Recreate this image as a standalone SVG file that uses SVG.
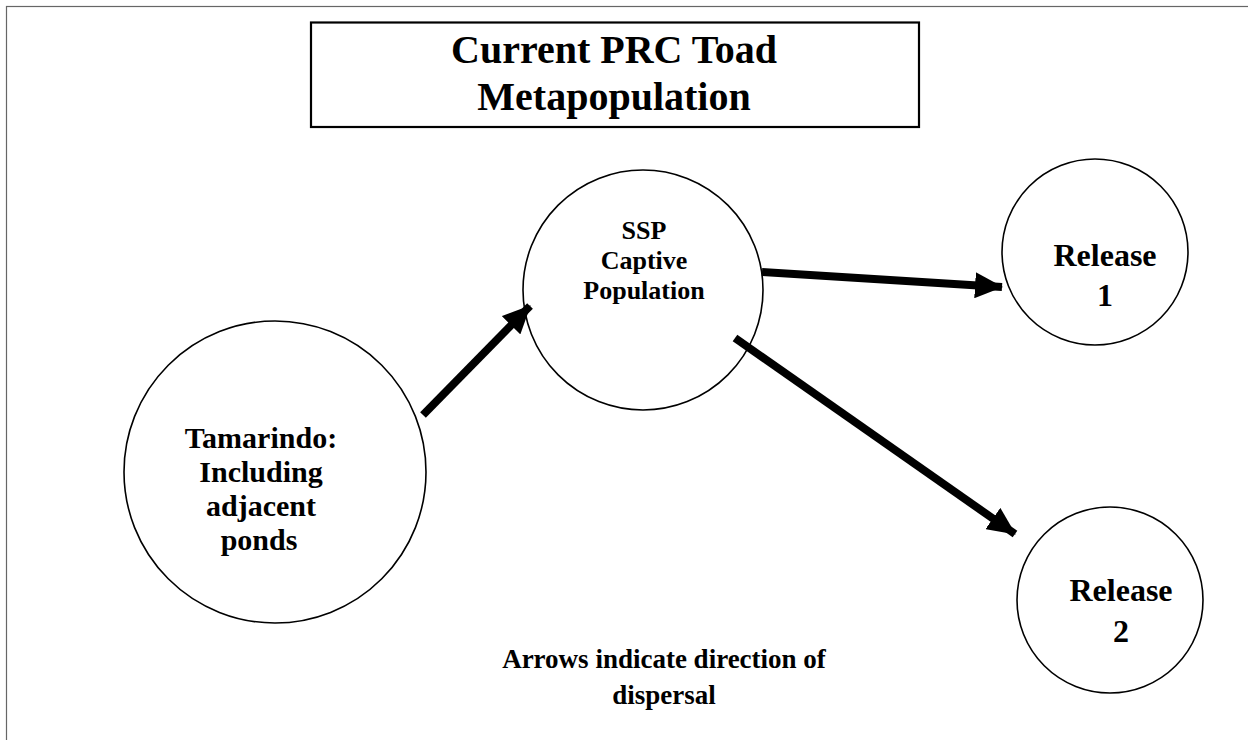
<svg xmlns="http://www.w3.org/2000/svg" width="1248" height="740" viewBox="0 0 1248 740">
<defs>
<style>
.t{font-family:"Liberation Serif","Times New Roman",serif;font-weight:bold;fill:#000;text-anchor:middle}
.node{fill:#fff;stroke:#000;stroke-width:1.6}
.conn{stroke:#000;stroke-width:8;fill:none}
</style>
<marker id="ah" markerUnits="userSpaceOnUse" markerWidth="28" markerHeight="26" viewBox="0 0 28 26" refX="27" refY="13" orient="auto">
<path d="M0,0 L28,13 L0,26 Z" fill="#000"/>
</marker>
</defs>
<rect width="1248" height="740" fill="#fff"/>
<rect x="6.5" y="6.5" width="1260" height="760" fill="none" stroke="#666" stroke-width="1.2"/>
<g id="title">
<rect x="311" y="22.5" width="608" height="104.5" fill="#fff" stroke="#000" stroke-width="2.2"/>
<text class="t" x="614" y="63" font-size="40">Current PRC Toad</text>
<text class="t" x="614" y="110" font-size="40">Metapopulation</text>
</g>
<g id="tamarindo">
<circle class="node" cx="275" cy="472" r="151"/>
<text class="t" x="261" y="448" font-size="30">Tamarindo:</text>
<text class="t" x="261" y="482" font-size="30">Including</text>
<text class="t" x="261" y="516" font-size="30">adjacent</text>
<text class="t" x="259" y="550" font-size="30">ponds</text>
</g>
<g id="ssp">
<circle class="node" cx="643" cy="290" r="120"/>
<text class="t" x="644" y="239" font-size="26">SSP</text>
<text class="t" x="644" y="269" font-size="26">Captive</text>
<text class="t" x="644" y="299" font-size="26">Population</text>
</g>
<g id="release1">
<circle class="node" cx="1095" cy="252" r="93"/>
<text class="t" x="1105" y="266" font-size="32">Release</text>
<text class="t" x="1105" y="306" font-size="32">1</text>
</g>
<g id="release2">
<circle class="node" cx="1110" cy="600" r="93"/>
<text class="t" x="1121" y="601" font-size="32">Release</text>
<text class="t" x="1121" y="642" font-size="32">2</text>
</g>
<g id="note">
<text class="t" x="664" y="668" font-size="27">Arrows indicate direction of</text>
<text class="t" x="664" y="704" font-size="27">dispersal</text>
</g>
<g id="connectors">
<line class="conn" x1="423" y1="415" x2="530" y2="306" marker-end="url(#ah)"/>
<line class="conn" x1="762" y1="272" x2="1002" y2="287" marker-end="url(#ah)"/>
<line class="conn" x1="735" y1="338" x2="1015" y2="534" marker-end="url(#ah)"/>
</g>
</svg>
